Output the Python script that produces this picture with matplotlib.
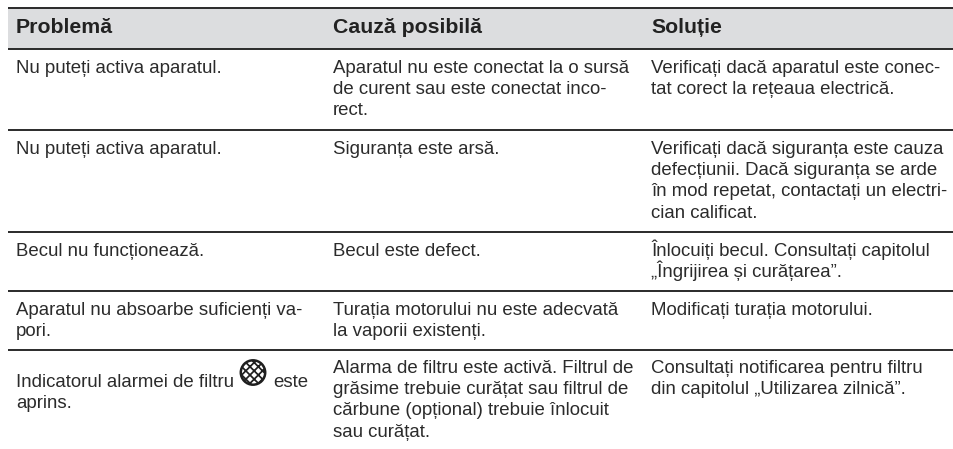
import matplotlib
matplotlib.use('Agg')
import matplotlib.pyplot as plt
from matplotlib.patches import Circle, Rectangle

plt.rcParams['font.family'] = ['Liberation Sans', 'DejaVu Sans']
plt.rcParams['hatch.linewidth'] = 1.25

# tabelul, rand cu rand (fiecare celula = liniile ei)
antet = ['Problemă', 'Cauză posibilă', 'Soluție']
probleme = [
    ['Nu puteți activa aparatul.'],
    ['Nu puteți activa aparatul.'],
    ['Becul nu funcționează.'],
    ['Aparatul nu absoarbe suficienți va-', 'pori.'],
    ['Indicatorul alarmei de filtru', 'aprins.'],
]
dupa_iconita = 'este'
cauze = [
    ['Aparatul nu este conectat la o sursă', 'de curent sau este conectat inco-', 'rect.'],
    ['Siguranța este arsă.'],
    ['Becul este defect.'],
    ['Turația motorului nu este adecvată', 'la vaporii existenți.'],
    ['Alarma de filtru este activă. Filtrul de', 'grăsime trebuie curățat sau filtrul de',
     'cărbune (opțional) trebuie înlocuit', 'sau curățat.'],
]
solutii = [
    ['Verificați dacă aparatul este conec-', 'tat corect la rețeaua electrică.'],
    ['Verificați dacă siguranța este cauza', 'defecțiunii. Dacă siguranța se arde',
     'în mod repetat, contactați un electri-', 'cian calificat.'],
    ['Înlocuiți becul. Consultați capitolul', '„Îngrijirea și curățarea”.'],
    ['Modificați turația motorului.'],
    ['Consultați notificarea pentru filtru', 'din capitolul „Utilizarea zilnică”.'],
]

# pozitii in pixeli
col_x = [16, 333, 651]
linii_y = [8, 49, 129.5, 232, 291, 350]
prima_linie = [73, 154, 256, 315, 373]
pas = 21.2
culoare = '#2b2b2b'

fig = plt.figure(figsize=(9.54, 4.49), dpi=100)
ax = fig.add_axes([0, 0, 1, 1])
ax.set_xlim(0, 954)
ax.set_ylim(449, 0)
ax.axis('off')

ax.add_patch(Rectangle((8, linii_y[0]), 946, linii_y[1] - linii_y[0], fc='#dcdddf', ec='none'))
for y in linii_y:
    ax.plot([8, 954], [y, y], color='#2a2a2a', lw=1.4, solid_capstyle='butt')

for x, t in zip(col_x, antet):
    ax.text(x, 33, t, fontsize=15.3, fontweight='bold', color='#222222', va='baseline')

for coloana, x in zip([probleme, cauze, solutii], col_x):
    for r, celula in enumerate(coloana):
        y0 = prima_linie[r]
        if coloana is probleme and r == 4:
            y0 = 387
        for k, linie in enumerate(celula):
            ax.text(x, y0 + k * pas, linie, fontsize=13.4, color=culoare, va='baseline')

ax.text(273, 387, dupa_iconita, fontsize=13.4, color=culoare, va='baseline')

# iconita filtrului
c = Circle((253, 372.5), 12.2, fc='white', ec='#1f1f1f', lw=1.8, hatch='xxxx')
ax.add_patch(c)

fig.savefig('out.png', dpi=100)
